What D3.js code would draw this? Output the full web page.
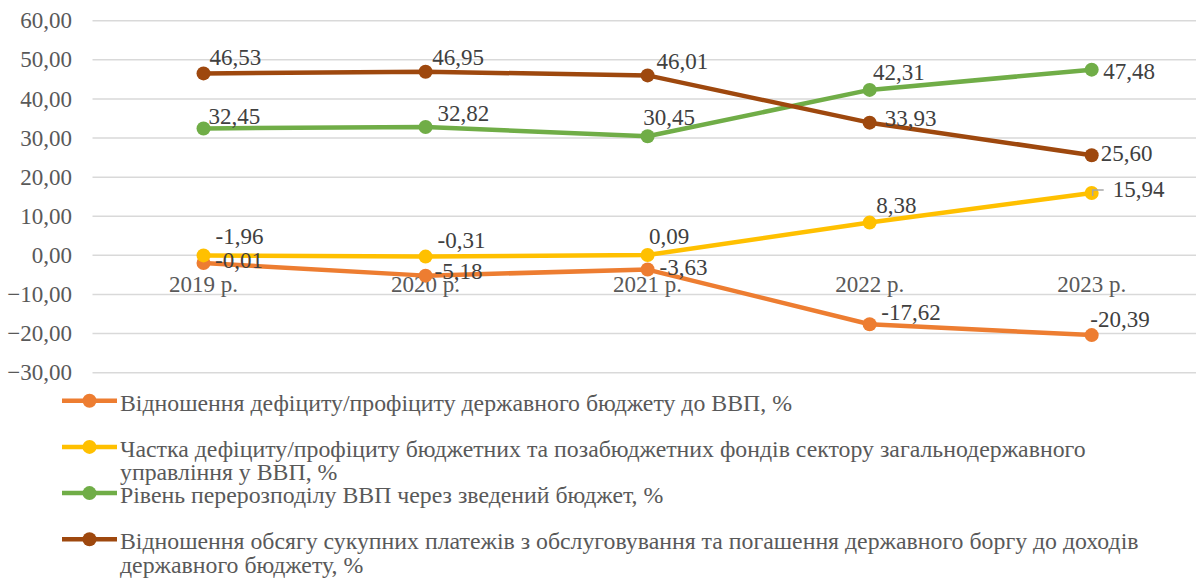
<!DOCTYPE html>
<html>
<head>
<meta charset="utf-8">
<script src="https://cdn.jsdelivr.net/npm/d3@7"></script>
<style>
  body { margin: 0; background: #fff; font-family: "Liberation Serif", serif; }
</style>
</head>
<body>
<div id="chart"></div>
<script>
var years = ["2019 р.", "2020 р.", "2021 р.", "2022 р.", "2023 р."];
var yTicks = [-30, -20, -10, 0, 10, 20, 30, 40, 50, 60];

// series values, %
var budgetDeficit = [-1.96, -5.18, -3.63, -17.62, -20.39];
var fundsDeficit = [-0.01, -0.31, 0.09, 8.38, 15.94];
var redistribution = [32.45, 32.82, 30.45, 42.31, 47.48];
var debtPayments = [46.53, 46.95, 46.01, 33.93, 25.60];

// the picture shows the 2019 labels of the two deficit series swapped
var budgetDeficitLabels = ["-0,01", "-5,18", "-3,63", "-17,62", "-20,39"];
var fundsDeficitLabels = ["-1,96", "-0,31", "0,09", "8,38", "15,94"];

var names = [
  ["Відношення дефіциту/профіциту державного бюджету до ВВП, %"],
  ["Частка дефіциту/профіциту бюджетних та позабюджетних фондів сектору загальнодержавного",
   "управління у ВВП, %"],
  ["Рівень перерозподілу ВВП через зведений бюджет, %"],
  ["Відношення обсягу сукупних платежів з обслуговування та погашення державного боргу до доходів",
   "державного бюджету, %"]
];

var fmt = function(v) { return d3.format(".2f")(v).replace(".", ","); };

var series = [
  { values: budgetDeficit, labels: budgetDeficitLabels, color: "#ED7D31",
    offs: [[11.5, 5], [9, 3], [12, 5], [11.7, -4.6], [-1.4, -8]] },
  { values: fundsDeficit, labels: fundsDeficitLabels, color: "#FFC000",
    offs: [[12, -11], [12, -8.6], [1.3, -11], [6.7, -9.6], [21, 4]] },
  { values: redistribution, labels: redistribution.map(fmt), color: "#70AD47",
    offs: [[5, -4], [12, -6], [-4.4, -11.6], [3.3, -9.6], [11.6, 9]] },
  { values: debtPayments, labels: debtPayments.map(fmt), color: "#9E480E",
    offs: [[6, -8], [6.6, -7], [9, -6], [15, 3], [9, 6]] }
];

var w = 1196, h = 583;
var svg = d3.select("#chart").append("svg")
    .attr("width", w)
    .attr("height", h)
    .attr("font-family", "Liberation Serif");

var x = d3.scalePoint().domain(years).range([92.5, 1202.7]).padding(0.5);
var y = d3.scaleLinear().domain([-30, 60]).range([372.7, 20.7]);

// gridlines
svg.selectAll(".grid")
    .data(yTicks)
    .enter()
    .append("line")
    .attr("x1", 92.5)
    .attr("x2", w)
    .attr("y1", function(d) { return y(d); })
    .attr("y2", function(d) { return y(d); })
    .attr("stroke", "#d9d9d9")
    .attr("stroke-width", 1.5);

// y axis labels
svg.selectAll(".ylab")
    .data(yTicks)
    .enter()
    .append("text")
    .attr("x", 72)
    .attr("y", function(d) { return y(d) + 7.6; })
    .attr("text-anchor", "end")
    .attr("font-size", 23)
    .attr("fill", "#595959")
    .text(fmt);

// category labels sit under the zero line
svg.selectAll(".xlab")
    .data(years)
    .enter()
    .append("text")
    .attr("x", function(d) { return x(d); })
    .attr("y", y(0) + 37)
    .attr("text-anchor", "middle")
    .attr("font-size", 23)
    .attr("fill", "#595959")
    .text(function(d) { return d; });

var line = d3.line()
    .x(function(d, i) { return x(years[i]); })
    .y(function(d) { return y(d); });

series.forEach(function(s) {
  svg.append("path")
      .attr("d", line(s.values))
      .attr("fill", "none")
      .attr("stroke", s.color)
      .attr("stroke-width", 4.5)
      .attr("stroke-linejoin", "round");

  svg.selectAll(null)
      .data(s.values)
      .enter()
      .append("circle")
      .attr("cx", function(d, i) { return x(years[i]); })
      .attr("cy", function(d) { return y(d); })
      .attr("r", 7)
      .attr("fill", s.color);
});

// leader line for 15,94
svg.append("path")
    .attr("d", "M" + (x(years[4]) + 1) + "," + (y(fundsDeficit[4]) + 3) +
               "V" + (y(fundsDeficit[4]) - 3) + "H" + (x(years[4]) + 12))
    .attr("fill", "none")
    .attr("stroke", "#a6a6a6")
    .attr("stroke-width", 1.5);

series.forEach(function(s) {
  svg.selectAll(null)
      .data(s.values)
      .enter()
      .append("text")
      .attr("x", function(d, i) { return x(years[i]) + s.offs[i][0]; })
      .attr("y", function(d, i) { return y(d) + s.offs[i][1]; })
      .attr("font-size", 23)
      .attr("fill", "#404040")
      .text(function(d, i) { return s.labels[i]; });
});

// legend
var legend = svg.selectAll(".legend")
    .data(series)
    .enter()
    .append("g")
    .attr("transform", function(d, i) { return "translate(0," + (410.7 + i * 46.2) + ")"; });

legend.append("line")
    .attr("x1", 62).attr("x2", 117)
    .attr("y1", -10).attr("y2", -10)
    .attr("stroke", function(d) { return d.color; })
    .attr("stroke-width", 4.5);

legend.append("circle")
    .attr("cx", 89.5).attr("cy", -10).attr("r", 7)
    .attr("fill", function(d) { return d.color; });

legend.append("text")
    .attr("x", 120)
    .attr("font-size", 23.8)
    .attr("fill", "#595959")
    .each(function(d, i) {
      var t = d3.select(this);
      names[i].forEach(function(txt, j) {
        t.append("tspan").attr("x", 120).attr("dy", j === 0 ? 0 : 23.6).text(txt);
      });
    });
</script>
</body>
</html>
